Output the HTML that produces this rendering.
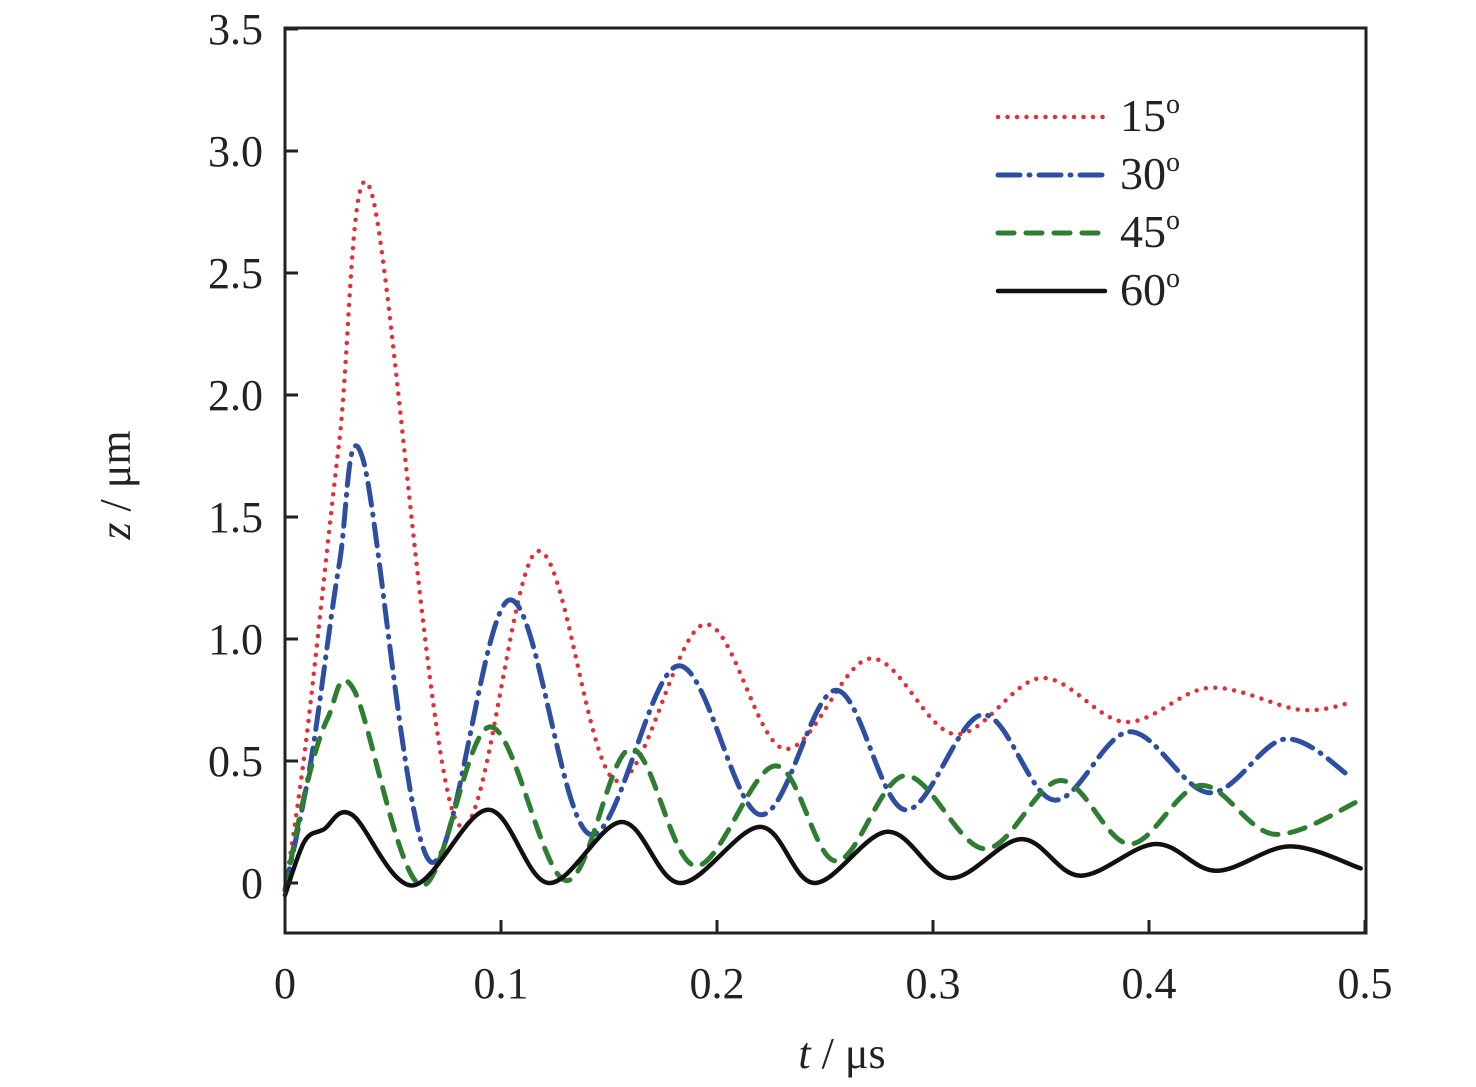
<!DOCTYPE html>
<html><head><meta charset="utf-8"><style>
body{margin:0;background:#fff}
svg{display:block;font-family:"Liberation Serif",serif}
</style></head><body>
<svg id="chart" width="1476" height="1087" viewBox="0 0 1476 1087">
<g id="series"></g>
<rect x="285" y="28" width="1081" height="905" fill="none" stroke="#222" stroke-width="3"/>
<g id="axes"></g>
<text x="130" y="485" font-size="44" text-anchor="middle" transform="rotate(-90 130 485)" fill="#222"><tspan font-style="italic">z</tspan> / μm</text>
<text x="842" y="1068" font-size="44" text-anchor="middle" fill="#222"><tspan font-style="italic">t</tspan> / μs</text>
<g id="legend"></g>
</svg>
<script>
const NS="http://www.w3.org/2000/svg";
const xTicks=[0,0.1,0.2,0.3,0.4,0.5];
const xTickLabels=["0","0.1","0.2","0.3","0.4","0.5"];
const yTicks=[0,0.5,1.0,1.5,2.0,2.5,3.0,3.5];
const yTickLabels=["0","0.5","1.0","1.5","2.0","2.5","3.0","3.5"];
const seriesNames=["15°","30°","45°","60°"];
const t15=[0,0.01,0.025,0.040,0.079,0.117,0.153,0.194,0.231,0.271,0.31,0.35,0.389,0.428,0.47,0.494];
const v15=[-0.03,0.6,1.8,2.83,0.26,1.36,0.42,1.06,0.55,0.92,0.61,0.84,0.66,0.80,0.71,0.74];
const t30=[0,0.012,0.025,0.036,0.067,0.104,0.141,0.182,0.22,0.255,0.287,0.323,0.356,0.391,0.428,0.463,0.494];
const v30=[-0.03,0.5,1.3,1.74,0.09,1.16,0.2,0.89,0.28,0.79,0.3,0.69,0.34,0.62,0.37,0.59,0.43];
const t45=[0,0.01,0.02,0.032,0.063,0.095,0.13,0.16,0.19,0.227,0.255,0.287,0.324,0.359,0.391,0.424,0.458,0.498];
const v45=[-0.03,0.4,0.68,0.79,-0.01,0.64,0.01,0.55,0.07,0.48,0.09,0.44,0.14,0.42,0.16,0.40,0.2,0.34];
const t60=[0,0.009,0.018,0.031,0.059,0.094,0.122,0.156,0.183,0.22,0.245,0.279,0.308,0.341,0.368,0.403,0.431,0.465,0.498];
const v60=[-0.05,0.17,0.22,0.28,-0.01,0.3,0.0,0.25,0.0,0.23,0.0,0.21,0.02,0.18,0.03,0.16,0.05,0.15,0.06];
const X=t=>285+t*2160, Y=v=>883-v*244;
const styles=[
 {c:"#e0303a",w:4.5,d:"0 9.5"},
 {c:"#2e4ea2",w:5,d:"22 9 1 9"},
 {c:"#2e7d32",w:5,d:"16 12"},
 {c:"#111",w:4.5,d:""}];
function path(ts,vs){
 const p=ts.map((t,i)=>[X(t),Y(vs[i])]);
 let d="M"+p[0][0]+","+p[0][1];
 for(let i=0;i<p.length-1;i++){
  const p0=p[i-1]||p[i],p1=p[i],p2=p[i+1],p3=p[i+2]||p2;
  const c1=[p1[0]+(p2[0]-p0[0])/6,p1[1]+(p2[1]-p0[1])/6];
  const c2=[p2[0]-(p3[0]-p1[0])/6,p2[1]-(p3[1]-p1[1])/6];
  d+=" C"+c1+" "+c2+" "+p2;
 }
 return d;
}
const sg=document.getElementById("series");
const data=[[t15,v15],[t30,v30],[t45,v45],[t60,v60]];
const snames=["series-15deg","series-30deg","series-45deg","series-60deg"];
data.forEach((s,i)=>{
 const el=document.createElementNS(NS,"path");
 el.setAttribute("d",path(s[0],s[1]));
 el.setAttribute("fill","none");el.setAttribute("stroke",styles[i].c);
 el.setAttribute("stroke-width",styles[i].w);el.setAttribute("stroke-linecap","round");
 if(styles[i].d)el.setAttribute("stroke-dasharray",styles[i].d);
 
 
 sg.appendChild(el);
});
const ax=document.getElementById("axes");
xTicks.forEach((t,i)=>{
 const l=document.createElementNS(NS,"line");
 l.setAttribute("x1",X(t));l.setAttribute("x2",X(t));l.setAttribute("y1",933);l.setAttribute("y2",920);
 l.setAttribute("stroke","#222");l.setAttribute("stroke-width",3);
 
 
 ax.appendChild(l);
 const tx=document.createElementNS(NS,"text");
 tx.setAttribute("x",X(t));tx.setAttribute("y",998);tx.setAttribute("font-size",44);
 tx.setAttribute("text-anchor","middle");tx.setAttribute("fill","#222");
 tx.textContent=xTickLabels[i];
 
 
 ax.appendChild(tx);
});
yTicks.forEach((v,i)=>{
 const l=document.createElementNS(NS,"line");
 l.setAttribute("x1",285);l.setAttribute("x2",298);l.setAttribute("y1",Y(v));l.setAttribute("y2",Y(v));
 l.setAttribute("stroke","#222");l.setAttribute("stroke-width",3);
 
 
 ax.appendChild(l);
 const tx=document.createElementNS(NS,"text");
 tx.setAttribute("x",263);tx.setAttribute("y",Y(v)+15);tx.setAttribute("font-size",44);
 tx.setAttribute("text-anchor","end");tx.setAttribute("fill","#222");
 tx.textContent=yTickLabels[i];
 
 
 ax.appendChild(tx);
});
const lg=document.getElementById("legend");
seriesNames.forEach((n,i)=>{
 const y=117+i*58;
 const l=document.createElementNS(NS,"line");
 l.setAttribute("x1",998);l.setAttribute("x2",1105);l.setAttribute("y1",y);l.setAttribute("y2",y);
 l.setAttribute("stroke",styles[i].c);l.setAttribute("stroke-width",styles[i].w);l.setAttribute("stroke-linecap","round");
 if(styles[i].d)l.setAttribute("stroke-dasharray",styles[i].d);
 
 
 lg.appendChild(l);
 const tx=document.createElementNS(NS,"text");
 tx.setAttribute("x",1120);tx.setAttribute("y",y+14);tx.setAttribute("font-size",46);tx.setAttribute("fill","#222");
 tx.innerHTML=n.replace("°","")+'<tspan font-size="28" dy="-18">o</tspan>';
 
 
 lg.appendChild(tx);
});
</script>
</body></html>
